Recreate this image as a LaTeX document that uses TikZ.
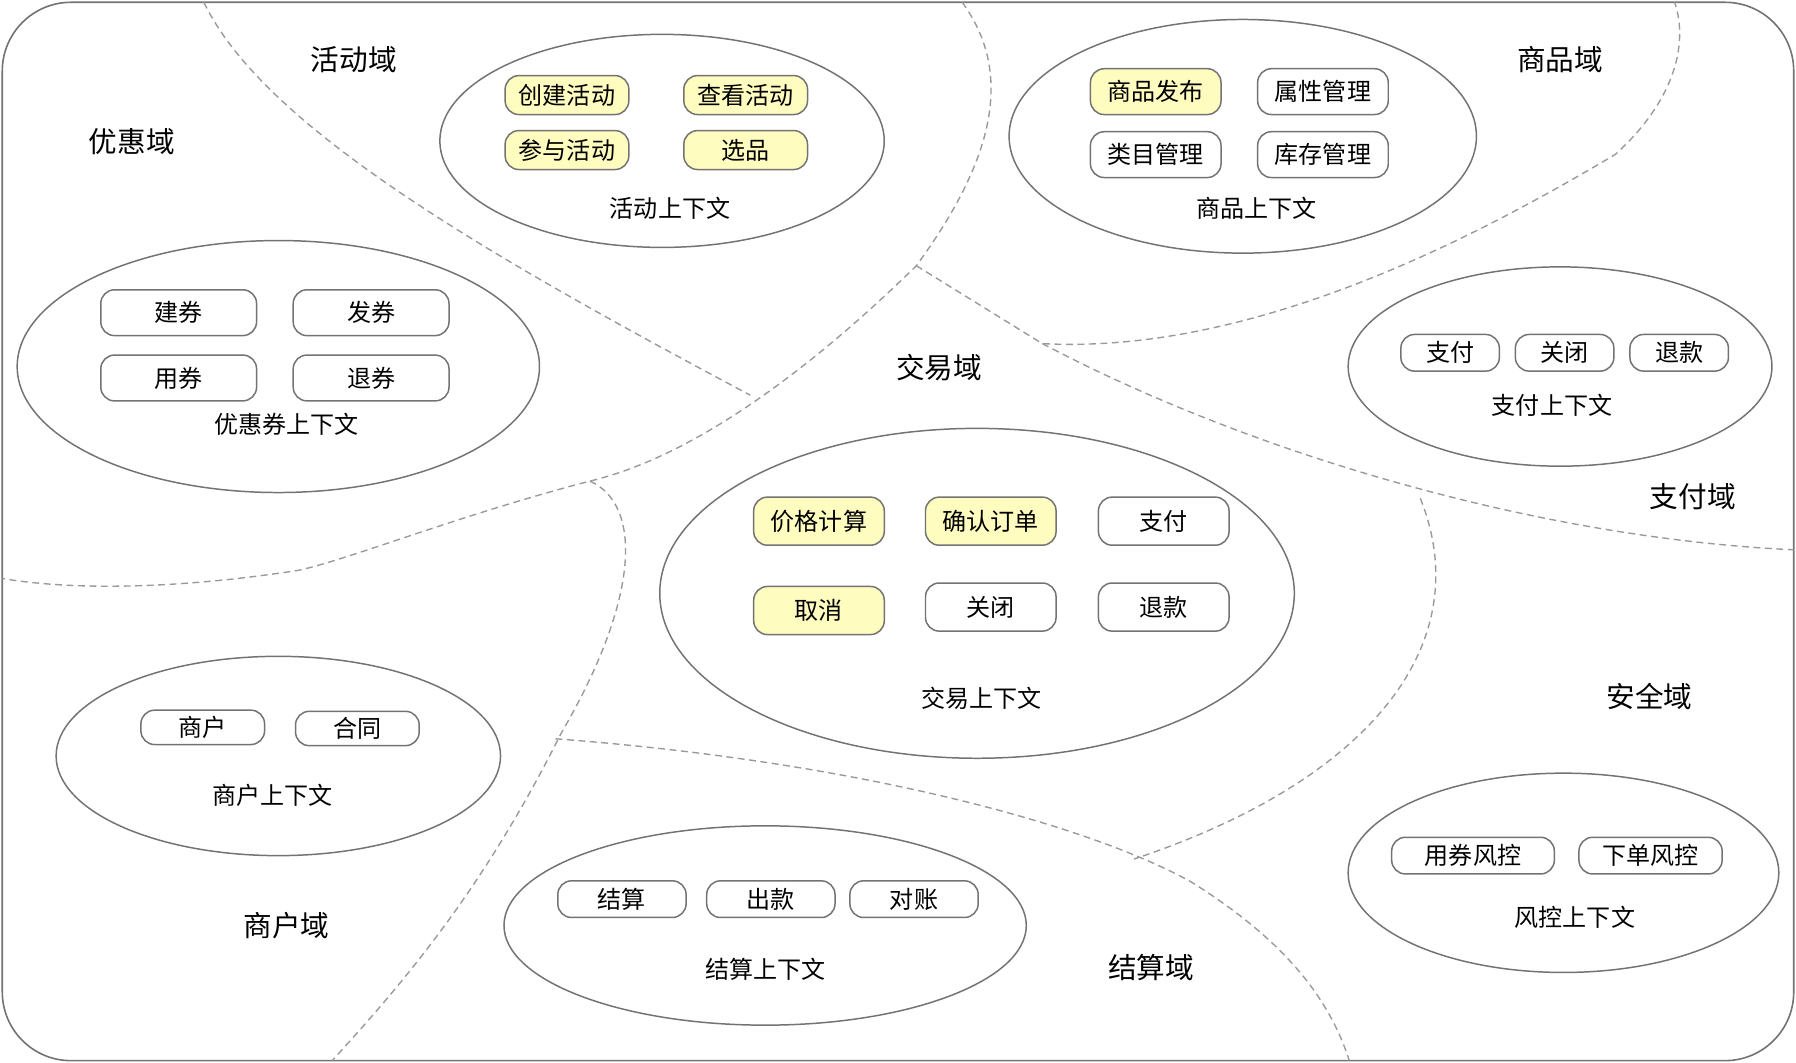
\documentclass[tikz,border=0pt]{standalone}
\usepackage{fontspec}
\setmainfont{Noto Sans CJK SC}
\begin{document}
\begin{tikzpicture}[x=1pt,y=-1pt,
 dom/.style={font=\fontsize{25}{25}\selectfont},
 ctx/.style={font=\fontsize{21}{21}\selectfont},
 ell/.style={draw=black!55,line width=1.3pt,ellipse},
 pill/.style={draw=black!55,line width=1.3pt,rounded corners=12pt,minimum width=#1,font=\fontsize{21}{21}\selectfont,inner sep=0pt},
 yel/.style={fill=yellow!25},
 dl/.style={draw=black!40,dashed,dash pattern=on 6pt off 4pt,line width=1.2pt}]
\useasboundingbox (0,0) rectangle (1568,928);
\draw[draw=black!55,line width=1.4pt,rounded corners=60pt] (2,2) rectangle (1566,926);
% dashed borders
\draw[dl] (178,2) .. controls (230,110) and (420,220) .. (655,345);
\draw[dl] (840,2) .. controls (890,70) and (860,150) .. (800,232) .. controls (700,330) and (600,400) .. (515,420) .. controls (400,450) and (300,490) .. (260,498) .. controls (150,515) and (60,515) .. (2,505);
\draw[dl] (800,232) -- (910,300) .. controls (1100,310) and (1300,200) .. (1410,135) .. controls (1460,90) and (1475,40) .. (1462,2);
\draw[dl] (910,300) .. controls (1100,400) and (1350,470) .. (1566,480);
\draw[dl] (515,420) .. controls (560,440) and (560,520) .. (490,640) .. controls (420,780) and (350,860) .. (290,926);
\draw[dl] (485,645) .. controls (750,665) and (950,720) .. (1040,770) .. controls (1120,820) and (1160,870) .. (1178,926);
\draw[dl] (1240,435) .. controls (1290,560) and (1200,680) .. (990,750);
% domain labels
\node[dom] (d1) at (309,52) {活动域};
\node[dom] (d2) at (115,124) {优惠域};
\node[dom] (d3) at (1362,52) {商品域};
\node[dom] (d4) at (820,321) {交易域};
\node[dom] (d5) at (1478,434) {支付域};
\node[dom] (d6) at (1440,608) {安全域};
\node[dom] (d7) at (250,808) {商户域};
\node[dom] (d8) at (1005,845) {结算域};
% ellipses
\draw[draw=black!55,line width=1.3pt] (578,123) ellipse [x radius=194,y radius=93];
\draw[draw=black!55,line width=1.3pt] (1085,119) ellipse [x radius=204,y radius=102];
\draw[draw=black!55,line width=1.3pt] (243,320) ellipse [x radius=228,y radius=110];
\draw[draw=black!55,line width=1.3pt] (1362,320) ellipse [x radius=185,y radius=87];
\draw[draw=black!55,line width=1.3pt] (853,518) ellipse [x radius=277,y radius=144];
\draw[draw=black!55,line width=1.3pt] (243,660) ellipse [x radius=194,y radius=87];
\draw[draw=black!55,line width=1.3pt] (668,808) ellipse [x radius=228,y radius=87];
\draw[draw=black!55,line width=1.3pt] (1365,762) ellipse [x radius=188,y radius=87];
\node[ctx] (c1) at (585,182) {活动上下文};
\node[ctx] (c2) at (1097,182) {商品上下文};
\node[ctx] (c3) at (250,370) {优惠券上下文};
\node[ctx] (c4) at (1355,354) {支付上下文};
\node[ctx] (c5) at (857,610) {交易上下文};
\node[ctx] (c6) at (238,694) {商户上下文};
\node[ctx] (c7) at (668,846) {结算上下文};
\node[ctx] (c8) at (1375,801) {风控上下文};
% pills
\node[pill=108pt,yel,minimum height=34pt] (a1) at (495,83) {创建活动};
\node[pill=108pt,yel,minimum height=34pt] (a2) at (651,83) {查看活动};
\node[pill=108pt,yel,minimum height=34pt] (a3) at (495,131) {参与活动};
\node[pill=108pt,yel,minimum height=34pt] (a4) at (651,131) {选品};
\node[pill=114pt,yel,minimum height=40pt] (p1) at (1009,80) {商品发布};
\node[pill=114pt,minimum height=40pt] (p2) at (1155,80) {属性管理};
\node[pill=114pt,minimum height=40pt] (p3) at (1009,135) {类目管理};
\node[pill=114pt,minimum height=40pt] (p4) at (1155,135) {库存管理};
\node[pill=136pt,minimum height=40pt] (q1) at (156,273) {建券};
\node[pill=136pt,minimum height=40pt] (q2) at (324,273) {发券};
\node[pill=136pt,minimum height=40pt] (q3) at (156,330) {用券};
\node[pill=136pt,minimum height=40pt] (q4) at (324,330) {退券};
\node[pill=86pt,minimum height=32pt] (z1) at (1266,308) {支付};
\node[pill=86pt,minimum height=32pt] (z2) at (1366,308) {关闭};
\node[pill=86pt,minimum height=32pt] (z3) at (1466,308) {退款};
\node[pill=114pt,yel,minimum height=42pt] (t1) at (715,455) {价格计算};
\node[pill=114pt,yel,minimum height=42pt] (t2) at (865,455) {确认订单};
\node[pill=114pt,minimum height=42pt] (t3) at (1016,455) {支付};
\node[pill=114pt,yel,minimum height=42pt] (t4) at (715,533) {取消};
\node[pill=114pt,minimum height=42pt] (t5) at (865,530) {关闭};
\node[pill=114pt,minimum height=42pt] (t6) at (1016,530) {退款};
\node[pill=108pt,minimum height=30pt] (m1) at (177,635) {商户};
\node[pill=108pt,minimum height=30pt] (m2) at (312,636) {合同};
\node[pill=112pt,minimum height=32pt] (s1) at (543,785) {结算};
\node[pill=112pt,minimum height=32pt] (s2) at (673,785) {出款};
\node[pill=112pt,minimum height=32pt] (s3) at (798,785) {对账};
\node[pill=142pt,minimum height=32pt] (r1) at (1286,747) {用券风控};
\node[pill=125pt,minimum height=32pt] (r2) at (1441,747) {下单风控};
\end{tikzpicture}
\end{document}
